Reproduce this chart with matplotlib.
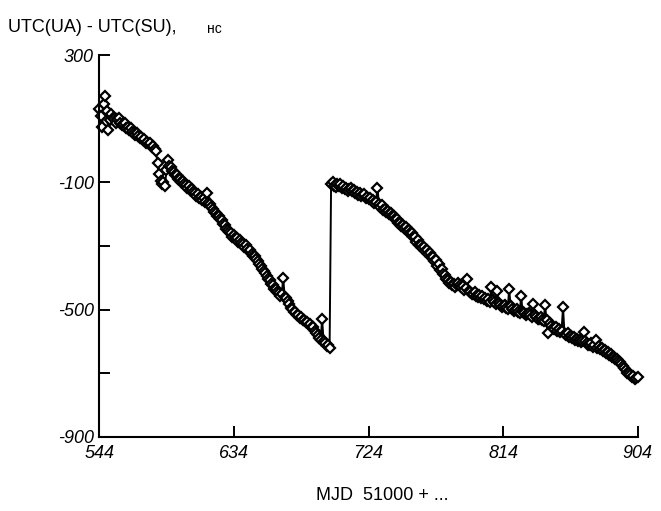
import numpy as np
import matplotlib
matplotlib.use('Agg')
import matplotlib.pyplot as plt

plt.rcParams['font.family'] = ['Liberation Sans', 'DejaVu Sans']

# daily values before the step, MJD 51544 ... 51698
days1 = np.arange(544, 699)
vals1 = [130, 110, 75, 145, 172, 125, 65, 95, 115, 104,
         100, 88, 98, 104, 86, 80, 84, 86, 72, 74,
         66, 70, 58, 56, 50, 54, 46, 40, 44, 34,
         36, 24, 28, 20, 24, 10, 16, 6, -2, -40,
         -75, -95, -105, -100, -110, -60, -30, -48, -52, -64,
         -66, -78, -76, -88, -90, -100, -96, -106, -108, -116,
         -112, -124, -120, -130, -134, -142, -136, -150, -146, -154,
         -148, -160, -132, -164, -168, -176, -184, -192, -196, -204,
         -206, -216, -218, -230, -234, -246, -248, -256, -258, -270,
         -264, -276, -274, -286, -280, -290, -294, -302, -298, -310,
         -316, -314, -326, -332, -330, -342, -346, -358, -362, -372,
         -378, -386, -394, -404, -408, -420, -424, -436, -436, -446,
         -448, -456, -452, -400, -460, -464, -474, -482, -494, -498,
         -506, -508, -516, -518, -526, -524, -534, -532, -540, -538,
         -548, -546, -556, -554, -566, -574, -580, -588, -596, -530,
         -600, -604, -614, -612, -620]

# daily values after the step, MJD 51699 ... 51904
days2 = np.arange(699, 905)
vals2 = [-105, -100, -110, -114, -106, -112, -104, -118, -112, -120,
         -116, -126, -120, -116, -128, -124, -134, -130, -138, -134,
         -144, -140, -136, -148, -146, -152, -148, -158, -156, -164,
         -160, -117, -168, -176, -172, -186, -182, -194, -190, -198,
         -196, -206, -204, -216, -214, -228, -226, -236, -234, -242,
         -240, -252, -248, -260, -258, -272, -270, -286, -282, -298,
         -296, -306, -304, -316, -312, -326, -322, -336, -334, -346,
         -344, -362, -358, -374, -372, -388, -392, -404, -406, -416,
         -412, -422, -418, -428, -424, -416, -422, -430, -426, -438,
         -432, -405, -440, -446, -452, -450, -446, -456, -460, -454,
         -464, -458, -468, -462, -472, -468, -476, -430, -470, -476,
         -482, -440, -478, -486, -492, -488, -486, -494, -498, -436,
         -490, -498, -504, -502, -498, -506, -510, -458, -506, -512,
         -518, -514, -510, -518, -522, -483, -516, -524, -530, -528,
         -522, -532, -536, -486, -534, -574, -542, -552, -558, -560,
         -554, -566, -562, -570, -566, -493, -578, -580, -574, -586,
         -582, -590, -586, -594, -592, -598, -596, -602, -600, -571,
         -598, -606, -612, -610, -604, -616, -612, -596, -620, -614,
         -624, -620, -630, -626, -636, -634, -642, -640, -650, -648,
         -656, -654, -662, -666, -672, -676, -684, -690, -698, -700,
         -706, -712, -710, -718, -716, -712]

xticks = [544, 634, 724, 814, 904]
yticks = [300, -100, -300, -500, -700, -900]
ylabels = ['300', '-100', '', '-500', '', '-900']

days = np.concatenate([days1, days2])
vals = np.array(vals1 + vals2)

fig = plt.figure(figsize=(6.61, 5.11), dpi=100)
ax = fig.add_axes([0.150, 0.145, 0.815, 0.747])
ax.plot(days, vals, color='black', lw=1.4, marker='D', ms=5,
        mfc='white', mec='black', mew=1.6, clip_on=False)

ax.set_xlim(544, 904)
ax.set_ylim(-900, 300)
ax.set_xticks(xticks)
ax.set_xticklabels([str(t) for t in xticks], fontstyle='italic', fontsize=13)
ax.set_yticks(yticks)
ax.set_yticklabels(ylabels, fontstyle='italic', fontsize=13)
ax.tick_params(direction='in', length=8, width=1.4, pad=4)
ax.tick_params(axis='x', pad=6)
for s in ['top', 'right']:
    ax.spines[s].set_visible(False)
for s in ['left', 'bottom']:
    ax.spines[s].set_linewidth(1.5)

fig.text(0.012, 0.947, 'UTC(UA) - UTC(SU),', fontsize=13, va='center')
fig.text(0.313, 0.944, 'нс', fontsize=10, va='center')
fig.text(0.579, 0.030, 'MJD  51000 + ...', fontsize=13, ha='center', va='center')

fig.savefig('out.png', dpi=100)
